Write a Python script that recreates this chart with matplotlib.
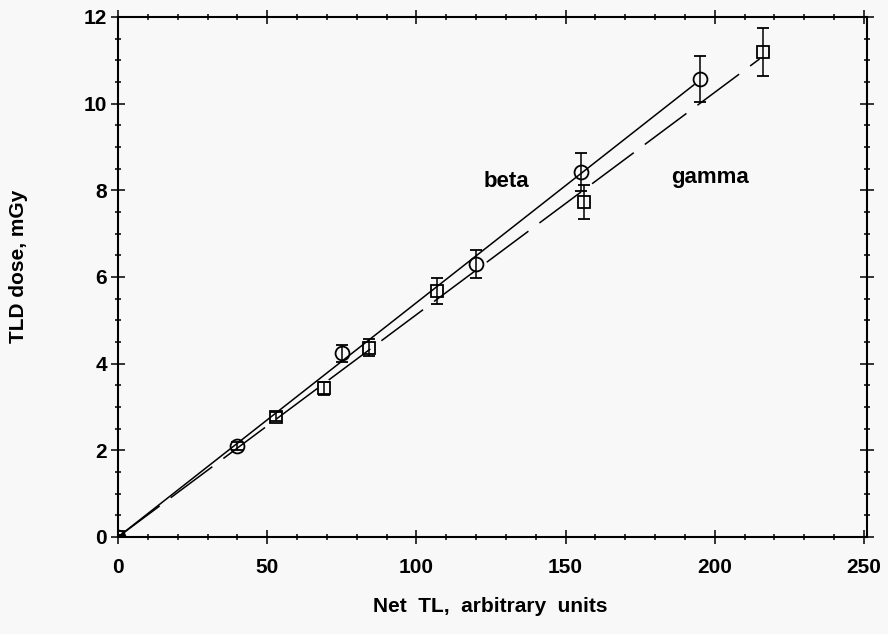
import matplotlib.pyplot as plt
import numpy as np
from matplotlib.ticker import MultipleLocator

plt.rcParams['font.family'] = ['Liberation Sans', 'DejaVu Sans']
plt.rcParams['font.weight'] = 'bold'

# beta source points (circles)
beta_x = [0, 40, 75, 120, 155, 195]
beta_y = [0, 2.1, 4.24, 6.3, 8.42, 10.57]
beta_err = [0.05, 0.1, 0.2, 0.32, 0.44, 0.53]

# gamma source points (squares)
gamma_x = [0, 53, 69, 84, 107, 156, 216]
gamma_y = [0, 2.78, 3.43, 4.37, 5.67, 7.73, 11.19]
gamma_err = [0.05, 0.1, 0.15, 0.2, 0.3, 0.4, 0.55]

bg = '#f8f8f8'
fig = plt.figure(figsize=(8.88, 6.34), dpi=100, facecolor=bg)
ax = fig.add_axes([118/888, 1-537/634, (867-118)/888, (537-17)/634], facecolor=bg)

# straight line fits through the origin
bx = np.array(beta_x, float); by = np.array(beta_y, float)
gx = np.array(gamma_x, float); gy = np.array(gamma_y, float)
kb = (bx*by).sum()/(bx*bx).sum()
kg = (gx*gy).sum()/(gx*gx).sum()

xb = np.array([0, 193])
ax.plot(xb, kb*xb, color='k', lw=1.1)
xg = np.array([0, 215])
ax.plot(xg, kg*xg, color='k', lw=1.1, dashes=[34, 9])

ax.errorbar(beta_x, beta_y, yerr=beta_err, fmt='o', mfc='none', mec='k', mew=1.3,
            ms=10, ecolor='k', elinewidth=1.1, capsize=4, capthick=1.1)
ax.errorbar(gamma_x, gamma_y, yerr=gamma_err, fmt='s', mfc='none', mec='k', mew=1.3,
            ms=8, ecolor='k', elinewidth=1.1, capsize=4, capthick=1.1)

ax.text(130, 8.2, 'beta', fontsize=16, fontweight='bold', ha='center', va='center')
ax.text(198.5, 8.3, 'gamma', fontsize=16, fontweight='bold', ha='center', va='center')

ax.set_xlim(0, 251)
ax.set_ylim(0, 12)
ax.xaxis.set_major_locator(MultipleLocator(50))
ax.xaxis.set_minor_locator(MultipleLocator(10))
ax.yaxis.set_major_locator(MultipleLocator(2))
ax.yaxis.set_minor_locator(MultipleLocator(0.5))
ax.tick_params(which='both', direction='inout', top=True, right=True, width=1.1)
ax.tick_params(which='major', length=10, labelsize=15)
ax.tick_params(axis='x', which='major', pad=10)
ax.tick_params(axis='y', which='major', pad=3)
ax.tick_params(which='minor', length=5)
for lab in ax.get_xticklabels() + ax.get_yticklabels():
    lab.set_fontweight('bold')
for s in ax.spines.values():
    s.set_linewidth(1.5)

fig.text(490/888, 1-607/634, 'Net  TL,  arbitrary  units', fontsize=15, fontweight='bold',
         ha='center', va='center')
fig.text(19/888, 1-266/634, 'TLD dose, mGy', fontsize=15, fontweight='bold',
         ha='center', va='center', rotation=90)

fig.savefig('out.png', dpi=100, facecolor=bg)
